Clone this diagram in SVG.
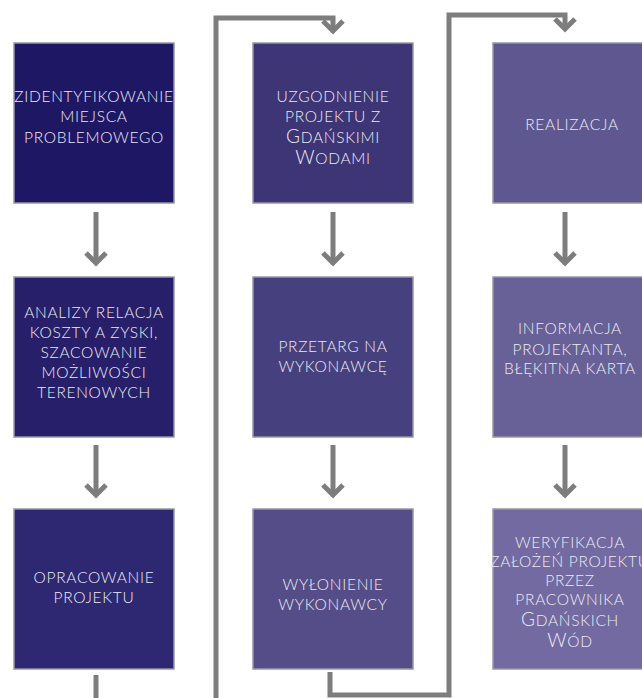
<svg xmlns="http://www.w3.org/2000/svg" width="642" height="698" viewBox="0 0 642 698">
<defs>
<style>
.box{stroke:#9896a8;stroke-width:1.5}
.t{font-family:"Lato","Liberation Sans",sans-serif;font-weight:300;font-size:15.5px;letter-spacing:0.7px;fill:#ecebf3;text-anchor:middle}
.big{font-size:19px}
.ln{fill:none;stroke:#7d7d7d;stroke-width:5}
</style>
<marker id="ah" markerUnits="userSpaceOnUse" viewBox="-16 -16 32 32" markerWidth="32" markerHeight="32" refX="0" refY="0" orient="auto">
<polyline points="-10,-10 0,0 -10,10" fill="none" stroke="#7d7d7d" stroke-width="5" stroke-linejoin="miter"/>
</marker>
</defs>
<rect width="642" height="698" fill="#ffffff"/>
<g id="connectors">
<path class="ln" d="M96 212 V263" marker-end="url(#ah)"/>
<path class="ln" d="M96 445 V495" marker-end="url(#ah)"/>
<path class="ln" d="M333 212 V263" marker-end="url(#ah)"/>
<path class="ln" d="M333 445 V495" marker-end="url(#ah)"/>
<path class="ln" d="M565 212 V263" marker-end="url(#ah)"/>
<path class="ln" d="M565 445 V495" marker-end="url(#ah)"/>
<path class="ln" d="M96 675 V720 H216 V18 H333 V31" marker-end="url(#ah)"/>
<path class="ln" d="M330 672 V695 H449 V15 H565 V29" marker-end="url(#ah)"/>
</g>
<g id="n1">
<rect class="box" x="14" y="43" width="160" height="160" fill="#1e1763"/>
<text class="t" x="94" y="102">ZIDENTYFIKOWANIE</text>
<text class="t" x="94" y="122">MIEJSCA</text>
<text class="t" x="94" y="143">PROBLEMOWEGO</text>
</g>
<g id="n2">
<rect class="box" x="14" y="277" width="160" height="160" fill="#271f69"/>
<text class="t" x="94" y="318">ANALIZY RELACJA</text>
<text class="t" x="94" y="338">KOSZTY A ZYSKI,</text>
<text class="t" x="94" y="358">SZACOWANIE</text>
<text class="t" x="94" y="378">MOŻLIWOŚCI</text>
<text class="t" x="94" y="398">TERENOWYCH</text>
</g>
<g id="n3">
<rect class="box" x="14" y="509" width="160" height="160" fill="#2e2771"/>
<text class="t" x="94" y="583">OPRACOWANIE</text>
<text class="t" x="94" y="603">PROJEKTU</text>
</g>
<g id="n4">
<rect class="box" x="253" y="43" width="160" height="160" fill="#3d3575"/>
<text class="t" x="333" y="102">UZGODNIENIE</text>
<text class="t" x="333" y="122">PROJEKTU Z</text>
<text class="t" x="333" y="143"><tspan class="big">G</tspan>DAŃSKIMI</text>
<text class="t" x="333" y="164"><tspan class="big">W</tspan>ODAMI</text>
</g>
<g id="n5">
<rect class="box" x="253" y="277" width="160" height="160" fill="#47407e"/>
<text class="t" x="333" y="352">PRZETARG NA</text>
<text class="t" x="333" y="372">WYKONAWCĘ</text>
</g>
<g id="n6">
<rect class="box" x="253" y="509" width="160" height="160" fill="#554d87"/>
<text class="t" x="333" y="590">WYŁONIENIE</text>
<text class="t" x="333" y="610">WYKONAWCY</text>
</g>
<g id="n7">
<rect class="box" x="493" y="43" width="160" height="160" fill="#5f5890"/>
<text class="t" x="572" y="130">REALIZACJA</text>
</g>
<g id="n8">
<rect class="box" x="493" y="277" width="160" height="160" fill="#686198"/>
<text class="t" x="570" y="334">INFORMACJA</text>
<text class="t" x="570" y="355">PROJEKTANTA,</text>
<text class="t" x="570" y="374">BŁĘKITNA KARTA</text>
</g>
<g id="n9">
<rect class="box" x="493" y="509" width="160" height="160" fill="#726aa0"/>
<text class="t" x="570" y="548">WERYFIKACJA</text>
<text class="t" x="570" y="567">ZAŁOŻEŃ PROJEKTU</text>
<text class="t" x="570" y="586">PRZEZ</text>
<text class="t" x="570" y="605">PRACOWNIKA</text>
<text class="t" x="570" y="626"><tspan class="big">G</tspan>DAŃSKICH</text>
<text class="t" x="570" y="647"><tspan class="big">W</tspan>ÓD</text>
</g>
</svg>
